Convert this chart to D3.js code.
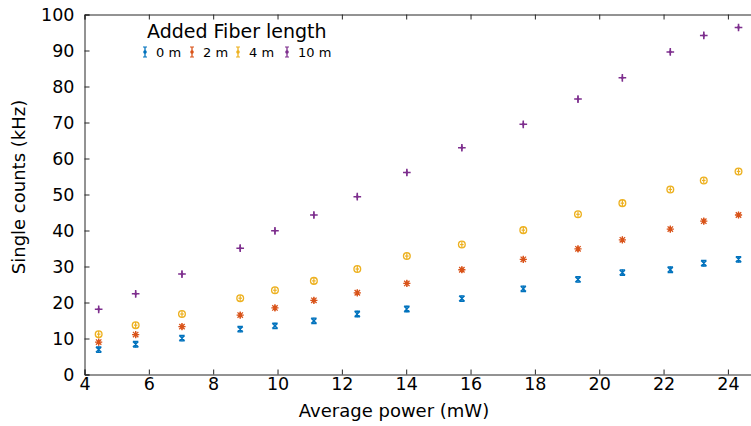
<!DOCTYPE html>
<html><head><meta charset="utf-8">
<script src="https://cdn.jsdelivr.net/npm/d3@7"></script>
<style>body{margin:0;background:#fff}svg{display:block}text{font-family:"DejaVu Sans",sans-serif;fill:#000}</style>
</head><body>
<svg id="c" width="751" height="426"></svg>
<script>
const power = [4.44, 5.59, 7.03, 8.84, 9.92, 11.13, 12.48, 14.02, 15.73, 17.64, 19.34, 20.72, 22.21, 23.25, 24.33];
const counts0m = [6.9, 8.4, 10.1, 12.6, 13.5, 14.9, 16.8, 18.2, 21.1, 23.8, 26.4, 28.3, 29.1, 30.9, 32.0];
const counts2m = [9.0, 11.1, 13.3, 16.5, 18.5, 20.6, 22.7, 25.3, 29.1, 32.0, 34.9, 37.4, 40.4, 42.6, 44.3];
const counts4m = [11.2, 13.7, 16.8, 21.2, 23.4, 26.0, 29.3, 32.9, 36.1, 40.1, 44.5, 47.6, 51.4, 53.9, 56.4];
const counts10m = [18.1, 22.4, 27.9, 35.1, 39.9, 44.3, 49.4, 56.1, 63.0, 69.5, 76.5, 82.4, 89.6, 94.2, 96.4];
const seriesNames = ["0 m", "2 m", "4 m", "10 m"];
const xTicks = [4, 6, 8, 10, 12, 14, 16, 18, 20, 22, 24];
const yTicks = [0, 10, 20, 30, 40, 50, 60, 70, 80, 90, 100];
const colors = ["#0072BD", "#D95319", "#EDB120", "#7E2F8E"];
const shapes = ["x", "star", "circle", "plus"];
const allSeries = [counts0m, counts2m, counts4m, counts10m];

const svg = d3.select("#c");
const x = d3.scaleLinear().domain([4, 25]).range([84.5, 84.5 + 21 * 32.17]);
const y = d3.scaleLinear().domain([0, 100]).range([374.5, 14.5]);
const axisColor = "#262626";

const gx = svg.append("g").attr("transform", `translate(0,${y(0)})`)
  .call(d3.axisBottom(x).tickValues(xTicks).tickSize(-5).tickPadding(3).tickFormat(d3.format("d")));
const gxt = svg.append("g").attr("transform", `translate(0,${y(100)})`)
  .call(d3.axisTop(x).tickValues(xTicks).tickSize(-5).tickFormat(""));
const gy = svg.append("g").attr("transform", `translate(${x(4)},0)`)
  .call(d3.axisLeft(y).tickValues(yTicks).tickSize(-5).tickPadding(10).tickFormat(d3.format("d")));
[gx, gxt, gy].forEach(g => {
  g.select(".domain").attr("stroke", axisColor).attr("stroke-width", 1);
  g.selectAll(".tick line").attr("stroke", axisColor);
  g.selectAll(".tick text").attr("font-size", 17.5).attr("font-family", "DejaVu Sans").attr("fill", "#000");
});

svg.append("text").attr("x", 394).attr("y", 417).attr("text-anchor", "middle")
  .attr("font-size", 18).text("Average power (mW)");
svg.append("text").attr("transform", "translate(25,187) rotate(-90)").attr("text-anchor", "middle")
  .attr("font-size", 18).text("Single counts (kHz)");

function drawMarker(g, shape, color, cx, cy, s) {
  const m = g.append("g").attr("transform", `translate(${cx},${cy})`)
    .attr("stroke", color).attr("fill", "none").attr("stroke-width", 1.2);
  m.append("line").attr("x1", 0).attr("x2", 0).attr("y1", -s * 0.7).attr("y2", s * 0.7);
  if (shape === "x") {
    m.append("path").attr("d", `M${-s*0.6},${-s*0.6}L${s*0.6},${s*0.6}M${-s*0.6},${s*0.6}L${s*0.6},${-s*0.6}M${-s*0.6},${-s*0.6}L${s*0.6},${-s*0.6}M${-s*0.6},${s*0.6}L${s*0.6},${s*0.6}`).attr("stroke-width", 1.4);
  } else if (shape === "star") {
    m.append("path").attr("d", `M${-s*0.8},0L${s*0.8},0M0,${-s*0.8}L0,${s*0.8}M${-s*0.6},${-s*0.6}L${s*0.6},${s*0.6}M${-s*0.6},${s*0.6}L${s*0.6},${-s*0.6}`).attr("stroke-width", 1.3);
    m.append("circle").attr("r", s * 0.35).attr("fill", color).attr("stroke", "none");
  } else if (shape === "circle") {
    m.append("circle").attr("r", s * 0.75).attr("stroke-width", 1.3);
    m.append("line").attr("x1", -s * 0.4).attr("x2", s * 0.4).attr("y1", 0).attr("y2", 0);
  } else {
    m.append("path").attr("d", `M${-s*0.85},0L${s*0.85},0M0,${-s*0.85}L0,${s*0.85}`).attr("stroke-width", 1.5);
    m.append("circle").attr("r", s * 0.3).attr("fill", color).attr("stroke", "none");
  }
}

const pts = svg.append("g");
allSeries.forEach((vals, i) => {
  vals.forEach((v, j) => drawMarker(pts, shapes[i], colors[i], x(power[j]), y(v), 4.5));
});

svg.append("text").attr("x", 147).attr("y", 38).attr("font-size", 19).text("Added Fiber length");
const legX = [145, 192, 238, 287];
seriesNames.forEach((n, i) => {
  const g = svg.append("g").attr("transform", `translate(${legX[i]},52)`);
  g.append("line").attr("y1", -5).attr("y2", 5).attr("stroke", colors[i]).attr("stroke-width", 1.3);
  g.append("line").attr("x1", -2).attr("x2", 2).attr("y1", -5).attr("y2", -5).attr("stroke", colors[i]);
  g.append("line").attr("x1", -2).attr("x2", 2).attr("y1", 5).attr("y2", 5).attr("stroke", colors[i]);
  g.append("circle").attr("r", 1.8).attr("fill", colors[i]);
  g.append("text").attr("x", 11).attr("y", 5).attr("font-size", 13).text(n);
});
</script>
</body></html>
